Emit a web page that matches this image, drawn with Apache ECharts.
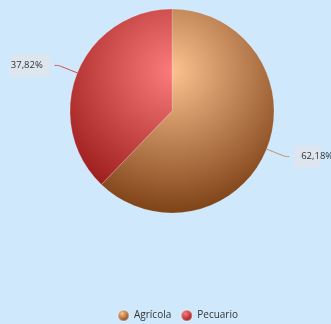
<!DOCTYPE html>
<html><head><meta charset="utf-8">
<script src="https://cdn.jsdelivr.net/npm/echarts@6/dist/echarts.min.js"></script>
<style>html,body{margin:0;padding:0;background:#cfe8fb;}#c{width:331px;height:324px;}</style>
</head><body><div id="c"></div>
<script>
const categories = ['Agrícola', 'Pecuario'];
const values = [62.18, 37.82];
const labels = ['62,18%', '37,82%'];
const lightColors = ['#fcc28f', '#fb7a7a'];
const darkColors = ['#6b2e05', '#880808'];

const chart = echarts.init(document.getElementById('c'));
const cx = 172, cy = 111, R = 102;
function grad(i, global) {
  if (global) {
    return { type: 'radial', x: cx, y: cy - 40, r: 165, global: true,
      colorStops: [{ offset: 0, color: lightColors[i] }, { offset: 1, color: darkColors[i] }] };
  }
  return { type: 'radial', x: 0.4, y: 0.35, r: 0.7,
    colorStops: [{ offset: 0, color: lightColors[i] }, { offset: 1, color: darkColors[i] }] };
}
chart.setOption({
  backgroundColor: '#cfe8fb',
  animation: false,
  legend: {
    top: 309, left: 117, padding: 0, icon: 'circle', itemWidth: 11, itemHeight: 11, itemGap: 9,
    textStyle: { fontFamily: 'Open Sans', fontSize: 10, color: '#333' },
    data: categories.map((c, i) => ({ name: c, itemStyle: { color: grad(i, false) } }))
  },
  series: [{
    type: 'pie',
    center: [cx, cy],
    radius: R,
    startAngle: 90,
    clockwise: true,
    itemStyle: { borderColor: 'rgba(255,255,255,0.35)', borderWidth: 0.5 },
    label: {
      formatter: p => labels[p.dataIndex],
      overflow: 'none',
      fontFamily: 'Open Sans', fontSize: 9.5, color: '#333',
      backgroundColor: '#dde6ee', padding: [6, 7], borderRadius: 1
    },
    labelLine: { length: 20, length2: 4, smooth: 0.3, lineStyle: { width: 1 } },
    data: categories.map((c, i) => ({
      name: c, value: values[i],
      itemStyle: { color: grad(i, true) },
      labelLine: { lineStyle: { color: i === 0 ? '#c98a5e' : '#d04848' } }
    }))
  }]
});
</script></body></html>
